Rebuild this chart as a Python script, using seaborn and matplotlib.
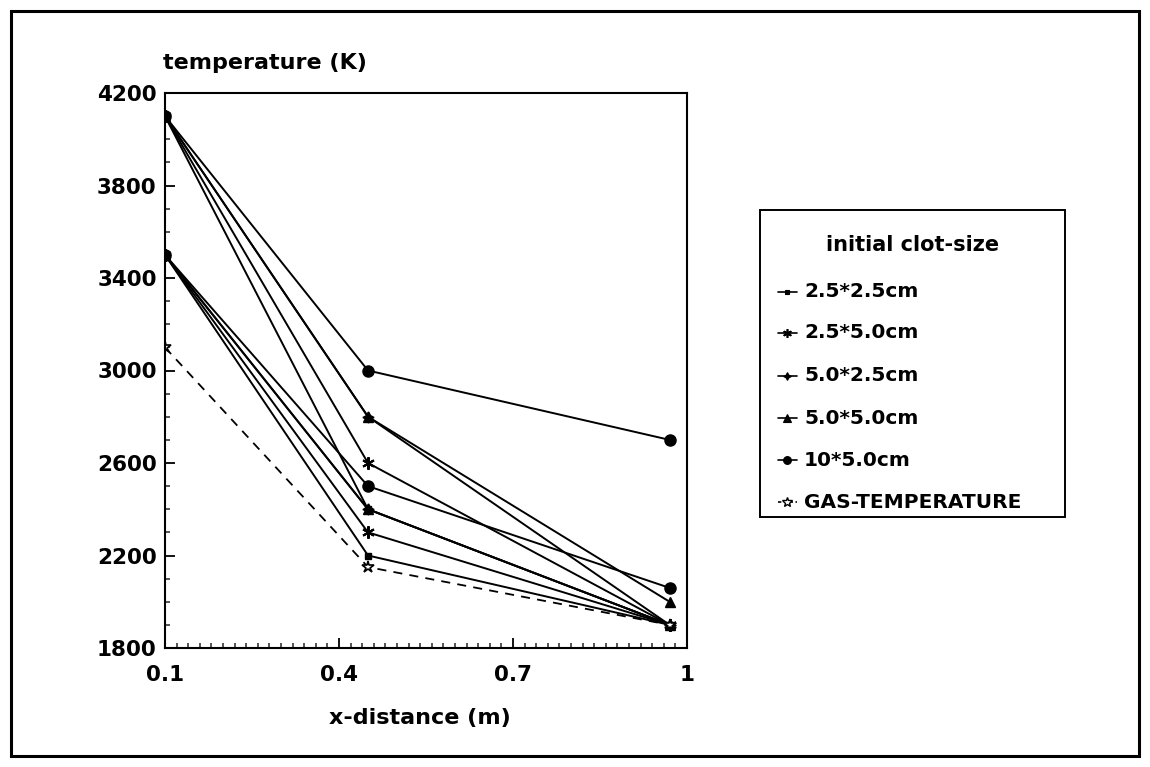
import matplotlib
matplotlib.use("Agg")
import matplotlib.pyplot as plt
import matplotlib.patches as mpatches
from matplotlib.lines import Line2D
from matplotlib.ticker import MultipleLocator, FixedLocator
import seaborn as sns
import pandas as pd

# ---------------- data ----------------
x_distance = [0.1, 0.45, 0.97]

clot_sizes = ["2.5*2.5cm", "2.5*5.0cm", "5.0*2.5cm", "5.0*5.0cm", "10*5.0cm"]

# initial temperature 4100 K
t_hi_25x25 = [4100, 2400, 1900]
t_hi_25x50 = [4100, 2600, 1900]
t_hi_50x25 = [4100, 2800, 1900]
t_hi_50x50 = [4100, 2800, 2000]
t_hi_10x50 = [4100, 3000, 2700]

# initial temperature 3500 K
t_lo_25x25 = [3500, 2200, 1900]
t_lo_25x50 = [3500, 2300, 1900]
t_lo_50x25 = [3500, 2400, 1900]
t_lo_50x50 = [3500, 2400, 1900]
t_lo_10x50 = [3500, 2500, 2060]

gas_temperature = [3100, 2150, 1900]
gas_label = "GAS-TEMPERATURE"
legend_title = "initial clot-size"

x_ticks = [0.1, 0.4, 0.7, 1.0]
x_tick_labels = ["0.1", "0.4", "0.7", "1"]
y_ticks = [1800, 2200, 2600, 3000, 3400, 3800, 4200]

# ---------------- style ----------------
sns.set_theme(style="white")
plt.rcParams["font.family"] = ["DejaVu Sans"]
plt.rcParams["font.weight"] = "bold"
plt.rcParams["text.color"] = "black"

W, H = 1150, 767
fig = plt.figure(figsize=(W / 100, H / 100), dpi=100)
fig.patch.set_facecolor("white")


def fx(px):
    return px / W


def fy(py):
    return 1 - py / H


# outer frame
fig.patches.append(mpatches.Rectangle((fx(11), fy(756)), (1139 - 11) / W, (756 - 11) / H,
                                      transform=fig.transFigure, fill=False,
                                      edgecolor="black", linewidth=2.2))

ax = fig.add_axes([fx(165), fy(648), (687 - 165) / W, (648 - 93) / H])

marker_styles = {
    "2.5*2.5cm": dict(marker="s", ms=4.5),
    "2.5*5.0cm": dict(marker=(6, 2, 0), ms=9, mew=1.5),
    "5.0*2.5cm": dict(marker=(4, 1, 0), ms=8),
    "5.0*5.0cm": dict(marker="^", ms=7.5),
    "10*5.0cm": dict(marker="o", ms=8),
}

hi_series = [t_hi_25x25, t_hi_25x50, t_hi_50x25, t_hi_50x50, t_hi_10x50]
lo_series = [t_lo_25x25, t_lo_25x50, t_lo_50x25, t_lo_50x50, t_lo_10x50]

rows = []
for name, hi, lo in zip(clot_sizes, hi_series, lo_series):
    for xv, tv in zip(x_distance, hi):
        rows.append(dict(x=xv, T=tv, size=name, init="4100"))
    for xv, tv in zip(x_distance, lo):
        rows.append(dict(x=xv, T=tv, size=name, init="3500"))
df = pd.DataFrame(rows)

for name in clot_sizes:
    st = marker_styles[name]
    for init in ["3500", "4100"]:
        sub = df[(df["size"] == name) & (df["init"] == init)]
        sns.lineplot(data=sub, x="x", y="T", ax=ax, color="black", linewidth=1.4,
                     marker=st["marker"], markersize=st["ms"],
                     markeredgewidth=st.get("mew", 1.0), markeredgecolor="black",
                     markerfacecolor="black", estimator=None, sort=False, legend=False)

gas_df = pd.DataFrame(dict(x=x_distance, T=gas_temperature))
sns.lineplot(data=gas_df, x="x", y="T", ax=ax, color="black", linewidth=1.3,
             linestyle=(0, (5, 4)), marker="*", markersize=9, markeredgewidth=1.2,
             markeredgecolor="black", markerfacecolor="white", estimator=None,
             sort=False, legend=False)

# axes formatting
ax.set_xlim(0.1, 1.0)
ax.set_ylim(1800, 4200)
ax.xaxis.set_major_locator(FixedLocator(x_ticks))
ax.set_xticklabels(x_tick_labels)
ax.xaxis.set_minor_locator(MultipleLocator(0.02))
ax.yaxis.set_major_locator(FixedLocator(y_ticks))
ax.yaxis.set_minor_locator(MultipleLocator(100))
ax.tick_params(axis="both", which="major", direction="in", length=7, width=1.3,
               labelsize=15.5, colors="black")
ax.tick_params(axis="both", which="minor", direction="in", length=3.5, width=1.1)
ax.tick_params(axis="x", which="both", bottom=True, top=False, pad=12)
ax.tick_params(axis="y", which="both", left=True, right=False, pad=6)
for lab in ax.get_xticklabels() + ax.get_yticklabels():
    lab.set_fontweight("bold")
for sp in ax.spines.values():
    sp.set_color("black")
    sp.set_linewidth(1.5)
ax.set_xlabel("")
ax.set_ylabel("")
ax.grid(False)

fig.text(fx(163), fy(63), "temperature (K)", ha="left", va="center",
         fontsize=16, fontweight="bold", color="black")
fig.text(fx(420), fy(718), "x-distance (m)", ha="center", va="center",
         fontsize=16, fontweight="bold", color="black")

# ---------------- legend box (drawn in figure pixels) ----------------
box_l, box_t, box_r, box_b = 760, 210, 1065, 517
fig.patches.append(mpatches.Rectangle((fx(box_l), fy(box_b)), (box_r - box_l) / W,
                                      (box_b - box_t) / H, transform=fig.transFigure,
                                      fill=True, facecolor="white", edgecolor="black",
                                      linewidth=1.4, zorder=5))
fig.text(fx((box_l + box_r) / 2), fy(245), legend_title, ha="center", va="center",
         fontsize=15, fontweight="bold", color="black", zorder=6)

entry_rows = [292, 333, 376, 418, 460, 502]
entry_labels = clot_sizes + [gas_label]
for lab, row in zip(entry_labels, entry_rows):
    if lab == gas_label:
        ls, mk, ms, mfc, mew = (0, (2, 1.5)), "*", 7, "white", 1.0
    else:
        st = marker_styles[lab]
        ls, mk, ms, mfc, mew = "-", st["marker"], st["ms"] * 0.7, "black", st.get("mew", 1.0) * 0.8
    fig.add_artist(Line2D([fx(778), fx(797)], [fy(row), fy(row)], transform=fig.transFigure,
                          color="black", linewidth=1.2, linestyle=ls, zorder=6))
    fig.add_artist(Line2D([fx(787)], [fy(row)], transform=fig.transFigure, color="black",
                          marker=mk, markersize=ms, markerfacecolor=mfc,
                          markeredgecolor="black", markeredgewidth=mew, linestyle="none",
                          zorder=7))
    fig.text(fx(804), fy(row), lab, ha="left", va="center", fontsize=14.5,
             fontweight="bold", color="black", zorder=6)

fig.savefig("out.png", dpi=100)
